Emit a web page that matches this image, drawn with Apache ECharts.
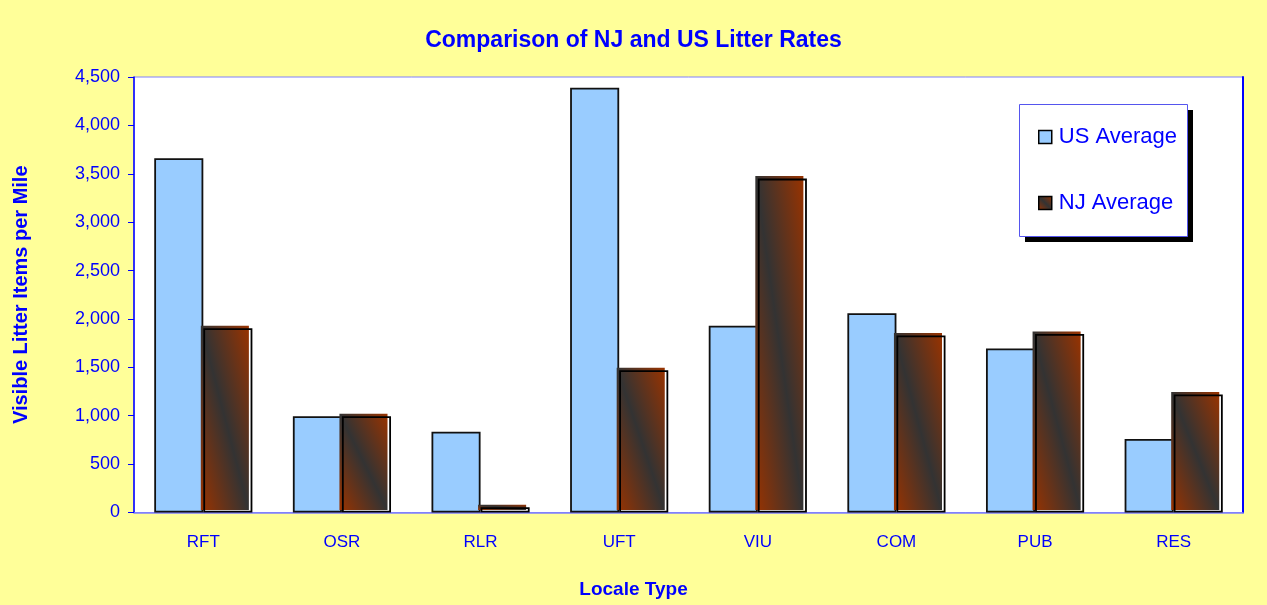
<!DOCTYPE html>
<html>
<head>
<meta charset="utf-8">
<title>Comparison of NJ and US Litter Rates</title>
<script src="https://cdn.jsdelivr.net/npm/echarts@6/dist/echarts.min.js"></script>
<style>
  html, body { margin: 0; padding: 0; background: #FFFF99; }
  #chart { width: 1267px; height: 605px; }
</style>
</head>
<body>
<div id="chart"></div>
<script>
// Locale types and litter counts (visible items per mile)
const categories = ['RFT', 'OSR', 'RLR', 'UFT', 'VIU', 'COM', 'PUB', 'RES'];
const usAverage = [3660, 995, 835, 4390, 1930, 2060, 1695, 760];
const njAverage = [1905, 995, 55, 1470, 3450, 1830, 1845, 1220];
const yTicks = { min: 0, max: 4500, interval: 500 };

const BLUE = '#0000FF';
const FONT = 'Liberation Sans, Arial, sans-serif';
const BAR_RATIO = 0.354;     // bar width as a share of the category band
const FILL_SHIFT = 2.5;      // NJ fill sits slightly up-left of its outline

function withCommas(v) {
  return String(v).replace(/\B(?=(\d{3})+(?!\d))/g, ',');
}

// Diagonal brown/charcoal/brown fill whose bands follow the bar's diagonal
function diagonalFill(x, y, w, h) {
  const cx = x + w / 2, cy = y + h / 2;
  const k = (w * h) / (w * w + h * h || 1);
  return new echarts.graphic.LinearGradient(
    cx - h * k, cy + w * k, cx + h * k, cy - w * k,
    [
      { offset: 0, color: '#993300' },
      { offset: 0.5, color: '#333333' },
      { offset: 1, color: '#993300' }
    ],
    true
  );
}

const chart = echarts.init(document.getElementById('chart'), null, { renderer: 'canvas' });

chart.setOption({
  backgroundColor: '#FFFF99',
  animation: false,
  title: [
    {
      text: 'Comparison of NJ and US Litter Rates',
      left: 'center',
      top: 24,
      textStyle: { color: BLUE, fontFamily: FONT, fontWeight: 'bold', fontSize: 23 }
    },
    {
      text: 'Locale Type',
      left: 'center',
      top: 580,
      padding: 0,
      textStyle: { color: BLUE, fontFamily: FONT, fontWeight: 'bold', fontSize: 19 }
    }
  ],
  // legend frame with its solid drop shadow
  graphic: [
    {
      type: 'rect', z: 5, silent: true,
      shape: { x: 1025, y: 110, width: 168, height: 132 },
      style: { fill: '#000000' }
    },
    {
      type: 'rect', z: 6, silent: true,
      shape: { x: 1019.5, y: 104.5, width: 168, height: 132 },
      style: { fill: '#FFFFFF', stroke: '#5555EE', lineWidth: 1 }
    }
  ],
  legend: {
    z: 10,
    orient: 'vertical',
    left: 1019,
    top: 104,
    padding: [22, 10, 25, 19],
    itemGap: 44,
    itemWidth: 13,
    itemHeight: 13,
    icon: 'rect',
    textStyle: { color: BLUE, fontFamily: FONT, fontSize: 22, padding: [0, 0, 0, 2] },
    data: [
      { name: 'US Average', itemStyle: { color: '#99CCFF', borderColor: '#000', borderWidth: 1.5 } },
      {
        name: 'NJ Average',
        itemStyle: {
          color: new echarts.graphic.LinearGradient(0, 1, 1, 0, [
            { offset: 0, color: '#993300' },
            { offset: 0.5, color: '#333333' },
            { offset: 1, color: '#993300' }
          ]),
          borderColor: '#000',
          borderWidth: 1.5
        }
      }
    ]
  },
  grid: {
    left: 134,
    right: 24,
    top: 77,
    bottom: 92.5,
    show: true,
    backgroundColor: '#FFFFFF',
    borderColor: '#8080FF',
    borderWidth: 1
  },
  xAxis: {
    type: 'category',
    data: categories,
    axisLine: { show: true, lineStyle: { color: '#8080FF', width: 1.5 } },
    axisTick: { show: false },
    axisLabel: { color: BLUE, fontFamily: FONT, fontSize: 17, margin: 21 },
    splitLine: { show: false }
  },
  yAxis: [
    {
      type: 'value',
      min: yTicks.min,
      max: yTicks.max,
      interval: yTicks.interval,
      name: 'Visible Litter Items per Mile',
      nameLocation: 'middle',
      nameGap: 103,
      nameTextStyle: { color: BLUE, fontFamily: FONT, fontWeight: 'bold', fontSize: 20 },
      axisLine: { show: true, lineStyle: { color: BLUE, width: 1.5 } },
      axisTick: { show: true, inside: false, length: 6, lineStyle: { color: BLUE } },
      axisLabel: { color: BLUE, fontFamily: FONT, fontSize: 18, margin: 14, formatter: withCommas },
      splitLine: { show: false }
    },
    {
      type: 'value',
      position: 'right',
      min: yTicks.min,
      max: yTicks.max,
      interval: yTicks.interval,
      axisLine: { show: true, lineStyle: { color: BLUE, width: 2 } },
      axisTick: { show: false },
      axisLabel: { show: false },
      splitLine: { show: false }
    }
  ],
  series: [
    {
      name: 'US Average',
      type: 'bar',
      barWidth: (BAR_RATIO * 100) + '%',
      barGap: '0%',
      z: 2,
      itemStyle: { color: '#99CCFF', borderColor: '#111', borderWidth: 1.8 },
      data: usAverage
    },
    {
      name: 'NJ fill',
      type: 'custom',
      z: 3,
      silent: true,
      encode: { x: 0, y: 1 },
      data: njAverage.map((v, i) => [i, v]),
      renderItem: function (params, api) {
        const i = api.value(0);
        const top = api.coord([i, api.value(1)]);
        const base = api.coord([i, 0]);
        const band = api.size([1, 0])[0];
        const w = band * BAR_RATIO - 1;
        const x = top[0] - FILL_SHIFT;
        const y = top[1] - FILL_SHIFT;
        const h = base[1] - top[1];
        return {
          type: 'rect',
          shape: { x: x, y: y, width: w, height: h },
          style: { fill: diagonalFill(x, y, w, h) }
        };
      }
    },
    {
      name: 'NJ Average',
      type: 'bar',
      barWidth: (BAR_RATIO * 100) + '%',
      barGap: '0%',
      z: 4,
      itemStyle: { color: 'rgba(0,0,0,0)', borderColor: '#000', borderWidth: 1.8 },
      data: njAverage
    }
  ]
});
</script>
</body>
</html>
